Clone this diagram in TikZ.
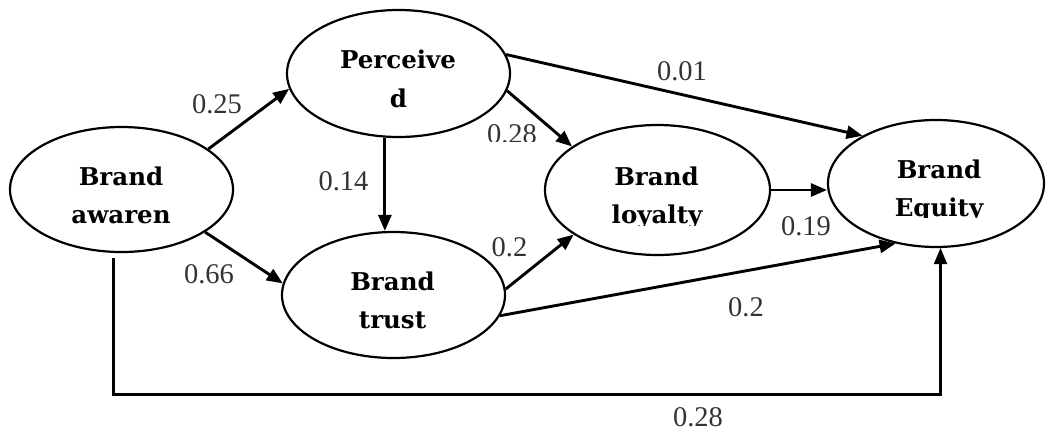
\documentclass[tikz,border=0pt]{standalone}
\usepackage{fontspec}
\setmainfont{Liberation Serif}
\newfontfamily\nodefont{DejaVu Serif}
\usetikzlibrary{shapes.geometric,arrows.meta}
\begin{document}
\begin{tikzpicture}[x=1pt,y=-1pt,
  latent/.style={draw, ellipse, line width=2.2pt, inner sep=0pt, minimum width=223pt, minimum height=127pt},
  lbl/.style={anchor=base, inner sep=0pt, font=\nodefont\bfseries\fontsize{24.5}{28}\selectfont},
  coef/.style={anchor=base, inner sep=0pt, text=black!80, font=\fontsize{28.5}{32}\selectfont},
  conn/.style={line width=2.9pt, -{Triangle[length=16pt,width=13pt]}},
  direct/.style={line width=2.2pt, -{Triangle[length=16pt,width=13pt]}}
]
\useasboundingbox (0,0) rectangle (1046,432);

% latent variables
\node[latent, minimum height=125pt] (aw) at (121.5,189.5) {};
\node[latent] (pc) at (398.5,73.5) {};
\node[latent, minimum height=126pt] (tr) at (393.5,295) {};
\node[latent, minimum width=225pt, minimum height=130pt] (ly) at (657.5,190) {};
\node[latent, minimum width=216pt] (eq) at (936,183.5) {};

% texts
\node[lbl] (awt1) at (121,185) {Brand};
\node[lbl] (awt2) at (121,223) {awaren};
\node[lbl] (pct1) at (398,68) {Perceive};
\node[lbl] (pct2) at (398.5,107) {d};
\node[lbl] (trt1) at (392.5,290) {Brand};
\node[lbl] (trt2) at (392.5,328) {trust};
\node[lbl] (lyt1) at (656.5,185) {Brand};
\begin{scope}
  \clip (590,195) rectangle (725,225);
  \node[lbl] (lyt2) at (657,223) {loyalty};
\end{scope}
\node[lbl] (eqt1) at (939,178) {Brand};
\begin{scope}
  \clip (870,185) rectangle (1010,217);
  \node[lbl] (eqt2) at (939,216) {Equity};
\end{scope}

% paths
\draw[conn] (aw.25.8) -- (pc.188.4);
\draw[conn] (aw.333.2) -- (tr.174.7);
\draw[conn] (pc.258.8) -- (pc.258.8 |- tr.north);
\draw[conn] (pc.351.3) -- (ly.153.7);
\draw[conn] (pc.10.5) -- (eq.147.9);
\draw[conn] (tr.3.4) -- (ly.208.7);
\draw[conn] (ly.east) -- (ly.east -| eq.west);
\draw[conn] (tr.349.4) -- (eq.236.5);
\coordinate (c1) at (113.5,258);
\coordinate (c2) at (113.5,394.5);
\draw[direct] (c1) -- (c2) -| (eq.274.2);

% coefficients
\node[coef] (l1) at (217,113.3) {0.25};
\node[coef] (l2) at (343.5,190) {0.14};
\begin{scope}
  \clip (470,100) rectangle (560,141.5);
  \node[coef] (l3) at (512,143.6) {0.28};
\end{scope}
\node[coef] (l4) at (682,80) {0.01};
\node[coef] (l5) at (209,283.3) {0.66};
\node[coef] (l6) at (509.5,256.5) {0.2};
\node[coef] (l7) at (806,235) {0.19};
\node[coef] (l8) at (746,316) {0.2};
\node[coef] (l9) at (698,426.5) {0.28};
\end{tikzpicture}
\end{document}
